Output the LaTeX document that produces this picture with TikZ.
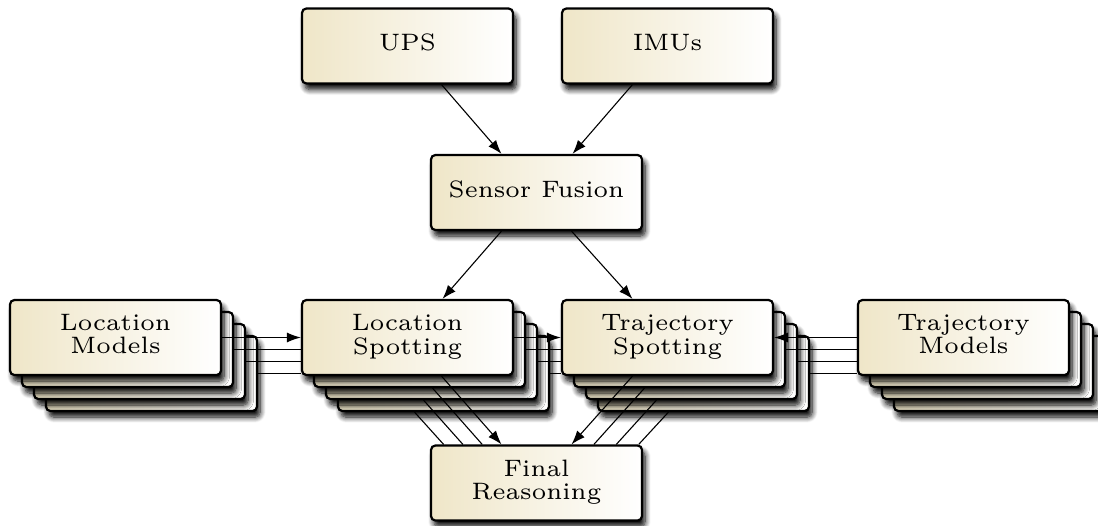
\documentclass[tikz,border=0pt]{standalone}
\usetikzlibrary{calc,arrows.meta,shadows.blur}
\definecolor{cream}{RGB}{239,230,200}
\newcommand{\boxtext}[1]{\scalebox{1.98}{\fontsize{6}{5.9}\selectfont\begin{tabular}{@{}c@{}}#1\end{tabular}}}
\tikzset{
  blk/.style={draw=black, line width=1.1pt, rounded corners=2.2pt,
    left color=cream, right color=white,
    minimum width=105.5pt, minimum height=37.5pt, inner sep=0pt,
    blur shadow={shadow xshift=1.5pt, shadow yshift=-3pt, shadow blur radius=2.8pt,
      shadow blur steps=8, shadow opacity=100}},
  conn/.style={line width=0.55pt, draw=black},
  arr/.style={conn, -{Latex[length=7pt,width=5pt]}},
}
\begin{document}
\begin{tikzpicture}[x=0.5pt,y=-0.5pt]
\useasboundingbox (0,0) rectangle (1098,525);

\node[blk] (UPS) at (407.5,46) {\boxtext{UPS}};
\node[blk] (IMU) at (667.5,46) {\boxtext{IMUs}};
\node[blk] (SF) at (536.5,192.5) {\boxtext{Sensor Fusion}};

% stacks
\foreach \i in {3,2,1} {
  \node[blk] (LM\i) at ($(115.5,337.5)+(12*\i,12*\i)$) {};
}
\node[blk] (LM0) at (115.5,337.5) {\boxtext{Location\\Models}};
\foreach \i in {3,2,1} {
  \node[blk] (LS\i) at ($(407.5,337.5)+(12*\i,12*\i)$) {};
}
\node[blk] (LS0) at (407.5,337.5) {\boxtext{Location\\Spotting}};
\foreach \i in {3,2,1} {
  \node[blk] (TS\i) at ($(667.5,337.5)+(12*\i,12*\i)$) {};
}
\node[blk] (TS0) at (667.5,337.5) {\boxtext{Trajectory\\Spotting}};
\foreach \i in {3,2,1} {
  \node[blk] (TM\i) at ($(963.5,337.5)+(12*\i,12*\i)$) {};
}
\node[blk] (TM0) at (963.5,337.5) {\boxtext{Trajectory\\Models}};

\node[blk] (FR) at (536.5,483) {\boxtext{Final\\Reasoning}};

% top connectors
\draw[arr] ($(UPS.south)+(34,0)$) -- ($(SF.north)+(-35,0)$);
\draw[arr] ($(IMU.south)+(-35,0)$) -- ($(SF.north)+(36,0)$);
\draw[arr] ($(SF.south)+(-35,0)$) -- ($(LS0.north)+(35,0)$);
\draw[arr] ($(SF.south)+(35,0)$) -- ($(TS0.north)+(-35,0)$);

% horizontal connectors
\draw[arr] (LM0.east) -- (LS0.west);
\draw[arr] (LS0.east) -- (TS0.west);
\draw[arr] (TM0.west) -- (TS0.east);
\foreach \i in {1,2,3} {
  \draw[conn] (LM\i.east) -- (LS0.west |- LM\i.east);
  \draw[conn] (LS\i.east) -- (TS0.west |- LS\i.east);
  \draw[conn] (TM0.west |- TS\i.east) -- (TS\i.east);
}

% connectors into final reasoning
\draw[arr] ($(LS0.south)+(34,0)$) -- ($(FR.north)+(-35,0)$);
\draw[arr] ($(TS0.south)+(-35,0)$) -- ($(FR.north)+(35,0)$);
\foreach \i in {1,2,3} {
  \draw[conn] ($(LS\i.south)+(34-21*\i,0)$) -- ($(FR.north)+(-35-19.3*\i,0)$);
  \draw[conn] ($(TS\i.south)+(-35,0)$) -- ($(FR.north)+(35+22.4*\i,0)$);
}
\end{tikzpicture}
\end{document}
